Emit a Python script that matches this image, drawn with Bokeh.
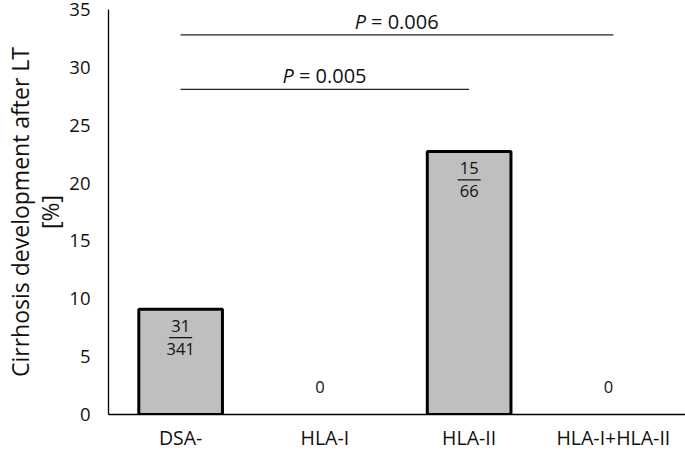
from bokeh.plotting import figure
from bokeh.models import Range1d, FixedTicker
from bokeh.core.properties import value
from bokeh.embed import file_html
from bokeh.resources import INLINE

# ---- data ----
categories = ["DSA-", "HLA-I", "HLA-II", "HLA-I+HLA-II"]
percent = [9.09, 0.0, 22.73, 0.0]
numerators = ["31", "", "15", ""]
denominators = ["341", "", "66", ""]
y_ticks = [0, 5, 10, 15, 20, 25, 30, 35]
y_title = "Cirrhosis development after LT\n[%]"
comparisons_from = ["DSA-", "DSA-"]
comparisons_to = ["HLA-II", "HLA-I+HLA-II"]
comparisons_level = [28.1, 32.8]
comparisons_p = ["0.005", "0.006"]

FONT = "Open Sans"
W, H = 685, 453
TOP, BOTTOM, LEFT = 9, 37, 105
YMAX = 35.0
frame_h = H - TOP - BOTTOM
u_per_px = YMAX / frame_h

xpos = list(range(len(categories)))

p = figure(width=W, height=H, x_range=Range1d(-0.5, len(categories) - 0.5),
           y_range=Range1d(0, YMAX), output_backend="svg", toolbar_location=None)
p.min_border_top = TOP
p.min_border_bottom = BOTTOM
p.min_border_left = LEFT
p.min_border_right = 0
p.outline_line_color = None
p.xgrid.grid_line_color = None
p.ygrid.grid_line_color = None
p.background_fill_color = "white"
p.border_fill_color = "white"

# bars (only non-zero values are drawn as bars)
bx = [x for x, v in zip(xpos, percent) if v > 0]
bv = [v for v in percent if v > 0]
p.vbar(x=bx, top=bv, bottom=0, width=0.58, fill_color="#bfbfbf",
       line_color="black", line_width=3)

# labels: fractions inside bars, "0" above empty categories
nnum = [n for n, v in zip(numerators, percent) if v > 0]
nden = [d for d, v in zip(denominators, percent) if v > 0]
p.text(x=bx, y=bv, text=nnum, text_align="center", text_baseline="middle",
       y_offset=17, text_font=value(FONT), text_font_size="16.5px", text_color="#111")
p.text(x=bx, y=bv, text=nden, text_align="center", text_baseline="middle",
       y_offset=40, text_font=value(FONT), text_font_size="16.5px", text_color="#111")
p.segment(x0=[x - 0.08 for x in bx], x1=[x + 0.08 for x in bx],
          y0=[v - 28.5 * u_per_px for v in bv], y1=[v - 28.5 * u_per_px for v in bv],
          line_color="#111", line_width=1.2)

zx = [x for x, v in zip(xpos, percent) if v == 0]
zy = [v for v in percent if v == 0]
p.text(x=zx, y=zy, text=["0"] * len(zx), text_align="center", text_baseline="middle",
       y_offset=-28, x_offset=-5, text_font=value(FONT), text_font_size="16.5px",
       text_color="#111")

# significance brackets
cx0 = [categories.index(c) for c in comparisons_from]
cx1 = [categories.index(c) for c in comparisons_to]
p.segment(x0=cx0, x1=cx1, y0=comparisons_level, y1=comparisons_level,
          line_color="#222", line_width=1.2)
mid = [(a + b) / 2 for a, b in zip(cx0, cx1)]
p.text(x=mid, y=comparisons_level, text=["P"] * len(mid), text_align="right",
       text_baseline="bottom", x_offset=-31, y_offset=0, text_font=value(FONT),
       text_font_style="italic", text_font_size="20px", text_color="#111")
p.text(x=mid, y=comparisons_level, text=["= " + s for s in comparisons_p],
       text_align="left", text_baseline="bottom", x_offset=-26, y_offset=0,
       text_font=value(FONT), text_font_size="20px", text_color="#111")

# x axis
xa = p.xaxis[0]
xa.ticker = FixedTicker(ticks=xpos)
xa.major_label_overrides = {x: c for x, c in zip(xpos, categories)}
xa.major_tick_line_color = None
xa.minor_tick_line_color = None
xa.major_tick_out = 0
xa.major_tick_in = 0
xa.axis_line_color = "black"
xa.axis_line_width = 1.3
xa.major_label_text_font = FONT
xa.major_label_text_font_size = "19.5px"
xa.major_label_text_color = "#111"
xa.major_label_standoff = 9

# y axis
ya = p.yaxis[0]
ya.ticker = FixedTicker(ticks=y_ticks)
ya.major_tick_line_color = None
ya.minor_tick_line_color = None
ya.major_tick_out = 0
ya.major_tick_in = 0
ya.axis_line_color = "black"
ya.axis_line_width = 1.3
ya.major_label_text_font = FONT
ya.major_label_text_font_size = "18.5px"
ya.major_label_text_color = "#111"
ya.major_label_standoff = 18
ya.axis_label = y_title
ya.axis_label_text_font = FONT
ya.axis_label_text_font_size = "23px"
ya.axis_label_text_font_style = "normal"
ya.axis_label_text_line_height = 0.95
ya.axis_label_text_color = "#111"
ya.axis_label_standoff = 0

open("out.html", "w").write(file_html(p, INLINE))
